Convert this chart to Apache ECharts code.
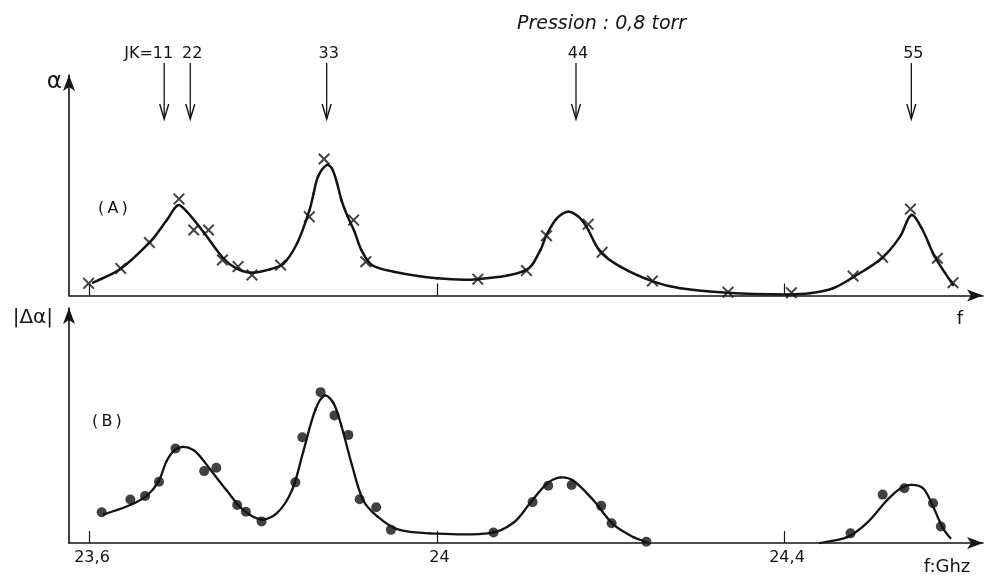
<!DOCTYPE html>
<html>
<head>
<meta charset="utf-8">
<title>Pression 0,8 torr</title>
<script src="https://cdn.jsdelivr.net/npm/echarts@6/dist/echarts.min.js"></script>
<style>
    html, body { margin: 0; padding: 0; background: #fff; }
    #main { width: 986px; height: 576px; }
</style>
</head>
<body>
<div id="main"></div>

<script>
    // raies JK (GHz) et leurs étiquettes
    var lineFreqs = [23.686, 23.716, 23.873, 24.160, 24.546];
    var lineLabels = ['JK=11', '22', '33', '44', '55'];

    // (A) points mesurés : [f, alpha]
    var alphaPoints = [
        [23.599, 5.5], [23.636, 12.3], [23.669, 24.0], [23.703, 43.8], [23.720, 29.7],
        [23.737, 29.7], [23.753, 16.1], [23.771, 13.1], [23.787, 9.3], [23.820, 13.8],
        [23.853, 35.7], [23.870, 61.9], [23.904, 34.2], [23.918, 15.3], [24.047, 7.4],
        [24.103, 11.3], [24.126, 27.1], [24.174, 32.3], [24.190, 19.6], [24.248, 6.6],
        [24.335, 1.5], [24.408, 1.3], [24.479, 8.8], [24.513, 17.3], [24.545, 39.2],
        [24.576, 16.9], [24.594, 5.8]
    ];

    // (A) courbe tracée
    var alphaCurve = [
        [23.604, 5.8], [23.635, 11.9], [23.670, 24.4], [23.689, 34.2], [23.702, 41.0],
        [23.712, 38.0], [23.731, 28.9], [23.754, 16.9], [23.769, 12.3], [23.787, 10.3],
        [23.808, 11.9], [23.823, 14.3], [23.839, 23.7], [23.853, 38.5], [23.858, 46.3],
        [23.863, 53.9], [23.873, 59.2], [23.879, 57.7], [23.885, 50.9], [23.890, 43.3],
        [23.897, 36.0], [23.905, 29.0], [23.913, 20.6], [23.925, 13.8], [23.950, 10.8],
        [24.000, 7.8], [24.046, 7.4], [24.103, 11.6], [24.119, 20.6], [24.126, 27.4],
        [24.138, 35.0], [24.151, 38.0], [24.163, 35.7], [24.172, 31.2], [24.188, 19.9],
        [24.211, 13.1], [24.249, 6.3], [24.280, 3.3], [24.334, 1.3], [24.403, 0.5],
        [24.429, 1.0], [24.456, 3.3], [24.479, 8.3], [24.512, 16.9], [24.533, 26.7],
        [24.546, 36.5], [24.558, 30.5], [24.573, 17.6], [24.594, 4.8]
    ];

    // (B) points mesurés : [f, |delta alpha|]
    var deltaPoints = [
        [23.614, 13.1], [23.647, 18.5], [23.664, 20.0], [23.680, 26.1], [23.699, 40.2],
        [23.732, 30.6], [23.746, 32.0], [23.770, 16.2], [23.780, 13.3], [23.798, 9.2],
        [23.837, 25.8], [23.845, 45.0], [23.866, 64.2], [23.882, 54.3], [23.898, 46.0],
        [23.911, 18.6], [23.930, 15.2], [23.947, 5.6], [24.065, 4.5], [24.110, 17.4],
        [24.128, 24.4], [24.155, 24.7], [24.189, 15.8], [24.201, 8.4], [24.241, 0.5],
        [24.476, 4.1], [24.513, 20.6], [24.538, 23.3], [24.571, 16.9], [24.580, 7.0]
    ];

    // (B) courbe tracée, en deux morceaux
    var deltaCurveLeft = [
        [23.616, 12.1], [23.647, 16.2], [23.666, 20.2], [23.679, 25.9], [23.689, 35.0],
        [23.698, 39.5], [23.708, 40.9], [23.720, 39.5], [23.729, 36.1], [23.739, 31.3],
        [23.758, 22.3], [23.777, 14.1], [23.798, 10.0], [23.816, 12.8], [23.833, 22.4],
        [23.846, 38.8], [23.860, 56.7], [23.871, 62.8], [23.881, 59.4], [23.890, 49.8],
        [23.902, 33.3], [23.915, 18.2], [23.931, 11.4], [23.954, 5.9], [23.992, 4.1],
        [24.061, 4.2], [24.088, 8.6], [24.107, 16.9], [24.126, 25.1], [24.142, 27.9],
        [24.157, 26.5], [24.180, 18.2], [24.203, 7.9], [24.226, 2.5], [24.241, 0.4]
    ];
    var deltaCurveRight = [
        [24.441, 0], [24.472, 2.5], [24.495, 8.6], [24.518, 18.2], [24.533, 23.1],
        [24.546, 24.7], [24.560, 23.1], [24.571, 15.5], [24.583, 5.9], [24.591, 2.1]
    ];

    var tickValues = [23.6, 24, 24.4];

    var ink = '#141414';
    var fontFamily = '"DejaVu Sans", "Liberation Sans", sans-serif';
    var crossSymbol = 'path://M0,1.4L1.4,0L6,4.6L10.6,0L12,1.4L7.4,6L12,10.6L10.6,12L6,7.4L1.4,12L0,10.6L4.6,6Z';

    var xMin = 23.5764, xMax = 24.6285;

    // courbe lisse (Hermite à paramétrage par la corde) passant par les points
    function curveSeries(name, points, axisIndex, width) {
        return {
            name: name,
            type: 'custom',
            xAxisIndex: axisIndex, yAxisIndex: axisIndex,
            data: points,
            z: 2,
            renderItem: function (params, api) {
                if (params.dataIndex !== 0) return null;
                var p = points.map(function (d) { return api.coord(d); });
                var n = p.length;
                var tang = p.map(function (pt, i) {
                    var a = p[Math.max(i - 1, 0)], b = p[Math.min(i + 1, n - 1)];
                    var da = Math.hypot(pt[0] - a[0], pt[1] - a[1]);
                    var db = Math.hypot(b[0] - pt[0], b[1] - pt[1]);
                    var s = da + db || 1;
                    return [(b[0] - a[0]) / s, (b[1] - a[1]) / s];
                });
                var segs = [];
                for (var i = 0; i < n - 1; i++) {
                    var d = Math.hypot(p[i + 1][0] - p[i][0], p[i + 1][1] - p[i][1]) / 3;
                    segs.push({
                        type: 'bezierCurve',
                        shape: {
                            x1: p[i][0], y1: p[i][1],
                            x2: p[i + 1][0], y2: p[i + 1][1],
                            cpx1: p[i][0] + tang[i][0] * d, cpy1: p[i][1] + tang[i][1] * d,
                            cpx2: p[i + 1][0] - tang[i + 1][0] * d, cpy2: p[i + 1][1] - tang[i + 1][1] * d
                        },
                        style: { stroke: ink, lineWidth: width, fill: null, lineCap: 'round' }
                    });
                }
                return { type: 'group', children: segs };
            }
        };
    }

    function freqAxis(gridIndex, showLabels, name, nameGap, nameSize) {
        return {
            type: 'value',
            gridIndex: gridIndex,
            min: xMin,
            max: xMax,
            name: name,
            nameLocation: 'end',
            nameGap: nameGap,
            nameTextStyle: {
                color: ink, fontFamily: fontFamily, fontSize: nameSize,
                align: 'center', verticalAlign: 'top', padding: [15, 0, 0, 0]
            },
            axisLine: {
                show: true,
                symbol: ['none', 'arrow'],
                symbolSize: [9, 16],
                lineStyle: { color: ink, width: 1.6 }
            },
            axisTick: {
                show: true,
                inside: true,
                length: 12,
                customValues: tickValues,
                lineStyle: { color: ink, width: 1.2 }
            },
            axisLabel: {
                show: showLabels,
                customValues: tickValues,
                margin: 7,
                padding: [0, 0, 0, 5],
                color: ink,
                fontFamily: fontFamily,
                fontSize: 16,
                formatter: function (v) { return String(v).replace('.', ','); }
            },
            splitLine: { show: false }
        };
    }

    function ampAxis(gridIndex, name, nameGap, padRight, nameSize) {
        return {
            type: 'value',
            gridIndex: gridIndex,
            min: 0,
            max: 100,
            name: name,
            nameLocation: 'end',
            nameGap: nameGap,
            nameTextStyle: {
                color: ink, fontFamily: fontFamily, fontSize: nameSize,
                align: 'right', verticalAlign: 'middle', padding: [0, padRight, 0, 0]
            },
            axisLine: {
                show: true,
                symbol: ['none', 'arrow'],
                symbolSize: [9, 16],
                lineStyle: { color: ink, width: 1.6 }
            },
            axisTick: { show: false },
            axisLabel: { show: false },
            splitLine: { show: false }
        };
    }

    var chart = echarts.init(document.getElementById('main'));

    var option = {
        backgroundColor: '#fff',
        animation: false,
        title: {
            text: 'Pression : 0,8 torr',
            left: 517,
            top: 15,
            padding: 0,
            textStyle: {
                color: ink, fontFamily: fontFamily, fontSize: 19,
                fontStyle: 'italic', fontWeight: 'normal'
            }
        },
        grid: [
            { left: 69, right: 3, top: 75, height: 220.5 },
            { left: 69, right: 3, top: 308, height: 243 },
            { left: 69, right: 3, top: 0, height: 140 }
        ],
        xAxis: [
            freqAxis(0, false, 'f', -23, 18),
            freqAxis(1, true, 'f:Ghz', -36, 18),
            { type: 'value', gridIndex: 2, min: xMin, max: xMax, show: false }
        ],
        yAxis: [
            ampAxis(0, 'α', -7, 7, 23),
            ampAxis(1, '|Δα|', -10, 16, 20),
            { type: 'value', gridIndex: 2, min: 0, max: 140, inverse: true, show: false }
        ],
        graphic: [
            { type: 'text', left: 98, top: 201, style: { text: '(\u2009A\u2009)', fill: ink, font: '16px ' + fontFamily } },
            { type: 'text', left: 92, top: 414, style: { text: '(\u2009B\u2009)', fill: ink, font: '16px ' + fontFamily } }
        ],
        series: [
            curveSeries('courbe A', alphaCurve, 0, 2.5),
            {
                name: 'mesures A',
                type: 'scatter',
                xAxisIndex: 0, yAxisIndex: 0,
                data: alphaPoints,
                symbol: crossSymbol,
                symbolSize: 12,
                itemStyle: { color: ink },
                z: 3
            },
            curveSeries('courbe B gauche', deltaCurveLeft, 1, 2.3),
            curveSeries('courbe B droite', deltaCurveRight, 1, 2.3),
            {
                name: 'mesures B',
                type: 'scatter',
                xAxisIndex: 1, yAxisIndex: 1,
                data: deltaPoints,
                symbol: 'circle',
                symbolSize: 10,
                itemStyle: { color: '#111' },
                z: 3
            },
            {
                // flèches des raies JK
                name: 'raies',
                type: 'custom',
                xAxisIndex: 2, yAxisIndex: 2,
                data: lineFreqs.map(function (f, i) { return [f, i]; }),
                renderItem: function (params, api) {
                    var top = api.coord([api.value(0), 63]);
                    var bot = api.coord([api.value(0), 119]);
                    var x = top[0];
                    var label = lineLabels[api.value(1)];
                    var isFirst = label.indexOf('JK') === 0;
                    return {
                        type: 'group',
                        children: [
                            {
                                type: 'line',
                                shape: { x1: x, y1: top[1], x2: x, y2: bot[1] },
                                style: { stroke: ink, lineWidth: 1.3 }
                            },
                            {
                                type: 'polyline',
                                shape: { points: [[x - 4.5, bot[1] - 15], [x, bot[1]], [x + 4.5, bot[1] - 15]] },
                                style: { stroke: ink, lineWidth: 1.4, fill: null }
                            },
                            {
                                type: 'text',
                                x: isFirst ? x + 9 : x + 2,
                                y: top[1] - 9,
                                style: {
                                    text: label,
                                    fill: ink,
                                    font: '16px ' + fontFamily,
                                    align: isFirst ? 'right' : 'center',
                                    verticalAlign: 'middle'
                                }
                            }
                        ]
                    };
                },
                z: 4
            }
        ]
    };

    chart.setOption(option);
</script>
</body>
</html>
